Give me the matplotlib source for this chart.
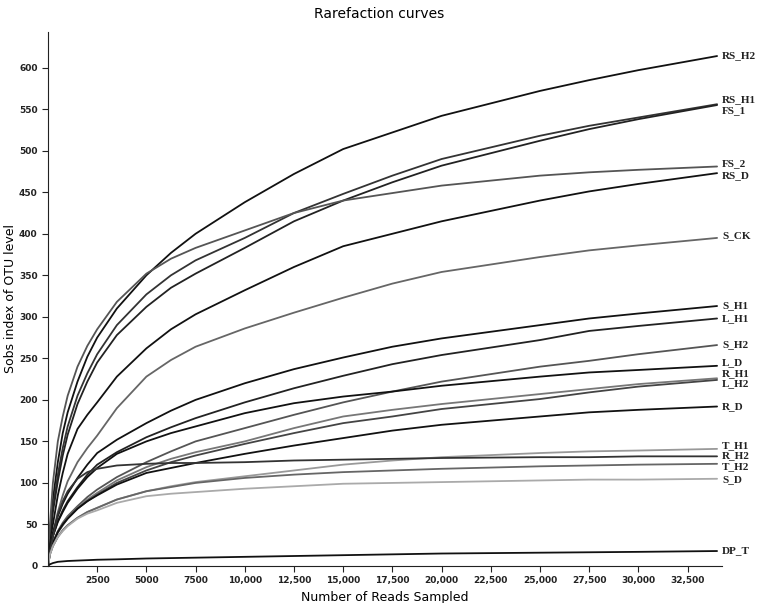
import matplotlib
matplotlib.use("Agg")
import matplotlib.pyplot as plt

# reads sampled (x) shared by every curve
reads = [0, 100, 250, 500, 750, 1000, 1500, 2000, 2500, 3500, 5000, 6250, 7500,
         10000, 12500, 15000, 17500, 20000, 25000, 27500, 30000, 34000]

# Sobs values per sample
RS_H2 = [0, 40, 80, 125, 160, 185, 222, 252, 275, 310, 350, 377, 400, 438, 472, 502, 522, 542, 572, 585, 597, 614]
RS_H1 = [0, 35, 70, 110, 142, 168, 205, 232, 255, 290, 327, 350, 368, 395, 425, 448, 470, 490, 518, 530, 540, 556]
FS_1 = [0, 33, 65, 102, 133, 158, 195, 222, 245, 278, 312, 335, 352, 383, 415, 440, 462, 482, 512, 526, 538, 555]
FS_2 = [0, 50, 100, 150, 180, 205, 240, 265, 285, 318, 352, 370, 383, 404, 425, 440, 449, 458, 470, 474, 477, 481]
RS_D = [0, 25, 50, 85, 112, 135, 165, 182, 197, 228, 262, 285, 303, 332, 360, 385, 400, 415, 440, 451, 460, 473]
S_CK = [0, 20, 40, 65, 85, 102, 125, 142, 157, 190, 228, 248, 264, 286, 305, 323, 340, 354, 372, 380, 386, 395]
S_H1 = [0, 22, 40, 60, 75, 87, 106, 122, 136, 152, 172, 187, 200, 220, 237, 251, 264, 274, 290, 298, 304, 313]
L_H1 = [0, 20, 36, 54, 67, 78, 95, 110, 122, 137, 155, 167, 178, 197, 214, 229, 243, 254, 272, 283, 289, 298]
S_H2 = [0, 16, 28, 42, 52, 60, 72, 83, 92, 107, 125, 138, 150, 166, 182, 197, 210, 222, 240, 247, 255, 266]
L_D = [0, 20, 36, 53, 65, 76, 93, 107, 118, 135, 150, 160, 168, 184, 196, 204, 210, 217, 228, 233, 236, 241]
R_H1 = [0, 16, 28, 41, 50, 58, 70, 80, 88, 103, 119, 129, 137, 150, 166, 180, 188, 195, 207, 213, 219, 226]
L_H2 = [0, 15, 27, 40, 49, 57, 69, 78, 86, 100, 115, 125, 133, 147, 160, 172, 180, 189, 201, 209, 216, 224]
R_D = [0, 16, 28, 41, 50, 57, 69, 78, 85, 98, 112, 118, 124, 135, 145, 154, 163, 170, 180, 185, 188, 192]
T_H1 = [0, 14, 24, 35, 43, 49, 58, 65, 70, 80, 90, 96, 101, 108, 115, 122, 127, 131, 136, 138, 139, 141]
R_H2 = [0, 18, 35, 62, 78, 90, 105, 113, 117, 121, 123, 124, 124, 125, 127, 128, 129, 130, 131, 131, 132, 132]
T_H2 = [0, 14, 24, 35, 43, 49, 58, 65, 70, 80, 90, 95, 100, 106, 110, 113, 115, 117, 120, 121, 122, 123]
S_D = [0, 14, 24, 35, 42, 48, 57, 63, 67, 76, 84, 87, 89, 93, 96, 99, 100, 101, 103, 104, 104, 105]
DP_T = [0, 2, 3.5, 5, 5.5, 6, 6.5, 7, 7.5, 8, 9, 9.5, 10, 11, 12, 13, 14, 15, 16, 16.5, 17, 18]

names = ["RS_H2", "RS_H1", "FS_1", "FS_2", "RS_D", "S_CK", "S_H1", "L_H1", "S_H2",
         "L_D", "R_H1", "L_H2", "R_D", "T_H1", "R_H2", "T_H2", "S_D", "DP_T"]
series = [RS_H2, RS_H1, FS_1, FS_2, RS_D, S_CK, S_H1, L_H1, S_H2,
          L_D, R_H1, L_H2, R_D, T_H1, R_H2, T_H2, S_D, DP_T]

# line greys and label heights (label text is nudged so neighbours don't collide)
colors = ["#111111", "#333333", "#222222", "#555555", "#111111", "#666666",
          "#111111", "#222222", "#555555", "#111111", "#777777", "#444444",
          "#111111", "#999999", "#333333", "#666666", "#aaaaaa", "#111111"]
label_y = [614, 561, 548, 484, 470, 398, 313, 298, 266, 245, 231, 219, 192,
           145, 133, 120, 104, 18]

xticks = [2500, 5000, 7500, 10000, 12500, 15000, 17500, 20000, 22500, 25000,
          27500, 30000, 32500]
xtick_labels = ["2500", "5000", "7500", "10,000", "12,500", "15,000", "17,500",
                "20,000", "22,500", "25,000", "27,500", "30,000", "32,500"]

fig = plt.figure(figsize=(7.58, 6.03), dpi=100)
ax = fig.add_axes([0.0633, 0.0614, 0.8892, 0.8856])

for name, vals, c, ly in zip(names, series, colors, label_y):
    ax.plot(reads, vals, color=c, lw=1.3, solid_capstyle="round",
            solid_joinstyle="round")
    ax.text(34250, ly, name, fontsize=8, fontweight="bold",
            family="Liberation Serif", va="center", ha="left", color="#222222")

ax.set_xlim(0, 34250)
ax.set_ylim(0, 643)
ax.set_xticks(xticks)
ax.set_xticklabels(xtick_labels)
ax.set_yticks(range(0, 601, 50))
ax.tick_params(axis="both", labelsize=6.5, length=4, width=0.8, direction="out",
               colors="#222222")
for lab in ax.get_xticklabels() + ax.get_yticklabels():
    lab.set_fontweight("bold")

ax.spines["top"].set_visible(False)
ax.spines["right"].set_visible(False)
ax.spines["left"].set_color("#222222")
ax.spines["bottom"].set_color("#222222")

ax.set_xlabel("Number of Reads Sampled", fontsize=9, labelpad=4)
ax.set_ylabel("Sobs index of OTU level", fontsize=9)
ax.yaxis.set_label_coords(-0.046, 0.5)
fig.text(0.5, 0.977, "Rarefaction curves", ha="center", va="center", fontsize=10)

fig.savefig("out.png", dpi=100)
